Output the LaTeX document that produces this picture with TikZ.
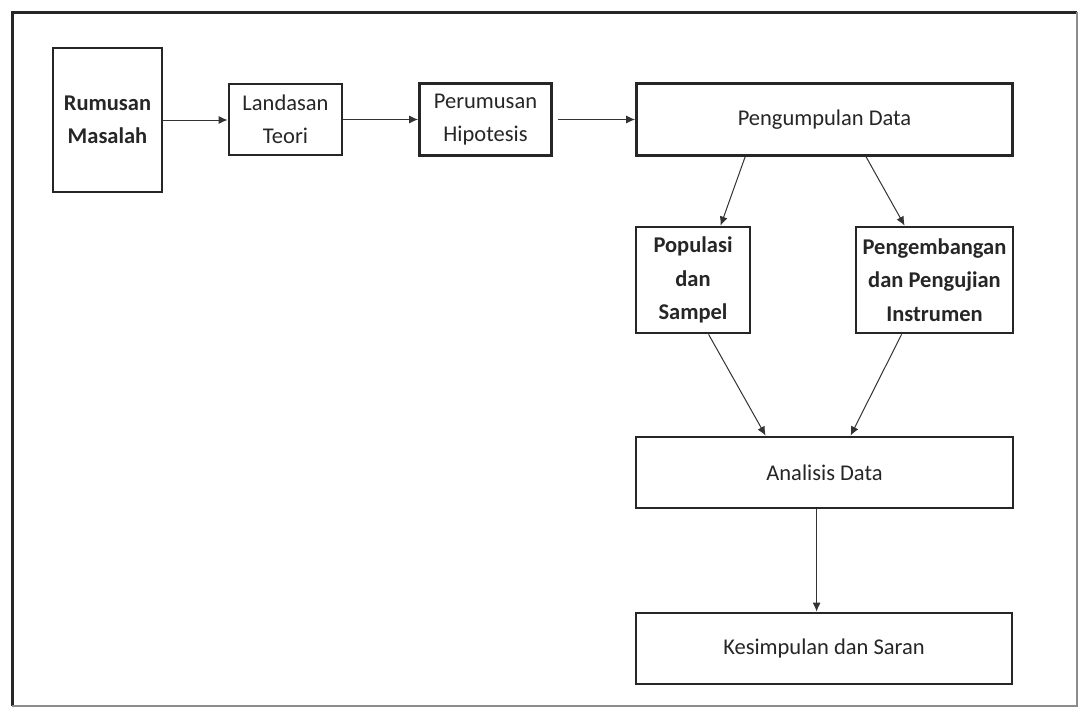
\documentclass[tikz,border=0pt]{standalone}
\usepackage{fontspec}
\setmainfont{Carlito}
\usetikzlibrary{arrows.meta}
\begin{document}
\begin{tikzpicture}[x=1pt,y=-1pt,
  box/.style={draw=black!85,line width=2.8pt,inner sep=0pt,align=center,
    font=\fontsize{22.5}{33.5}\selectfont,text=black!85},
  bbox/.style={box,font=\fontsize{22.5}{33.5}\selectfont\bfseries},
  conn/.style={draw=black!80,line width=1pt,-{Latex[length=9pt,width=8pt]}}]
\useasboundingbox[fill=white] (0,0) rectangle (1081,715);
% frame
\draw[black!85,line width=3pt] (12,706) -- (12,12) -- (1077,12);
\draw[black!45,line width=1.2pt] (1077,12) -- (1077,706) -- (12,706);
% nodes
\node[bbox,minimum width=109pt,minimum height=144pt] (RM) at (107.5,120) {Rumusan\\Masalah};
\node[box,minimum width=113pt,minimum height=71pt] (LT) at (285.5,119.5) {Landasan\\Teori};
\node[box,minimum width=132pt,minimum height=72pt] (PH) at (485.5,119.5) {Perumusan\\Hipotesis};
\node[box,minimum width=376pt,minimum height=72pt] (PD) at (824.5,119.5) {Pengumpulan Data};
\node[bbox,minimum width=114pt,minimum height=106pt] (PS) at (693,280) {Populasi\\dan\\Sampel};
\node[bbox,minimum width=157pt,minimum height=106pt] (PI) at (934.5,280) {Pengembangan\\dan Pengujian\\Instrumen};
\node[box,minimum width=377pt,minimum height=71pt] (AD) at (824.5,472.5) {Analisis Data};
\node[box,minimum width=376pt,minimum height=71pt] (KS) at (824,648.5) {Kesimpulan dan Saran};
% connectors
\draw[conn] (RM.east) -- (RM.east -| LT.west);
\draw[conn] (LT.east) -- (LT.east -| PH.west);
\draw[conn] ([xshift=5pt]PH.east) -- (PH.east -| PD.west);
\draw[conn] ([xshift=110pt]PD.south west) -- ([xshift=86pt]PS.north west);
\draw[conn] ([xshift=231pt]PD.south west) -- ([xshift=50pt]PI.north west);
\draw[conn] ([xshift=74pt]PS.south west) -- ([xshift=131pt]AD.north west);
\draw[conn] ([xshift=47pt]PI.south west) -- ([xshift=216pt]AD.north west);
\draw[conn] ([xshift=182pt]AD.south west) -- ([xshift=182pt]KS.north west);
\end{tikzpicture}
\end{document}
